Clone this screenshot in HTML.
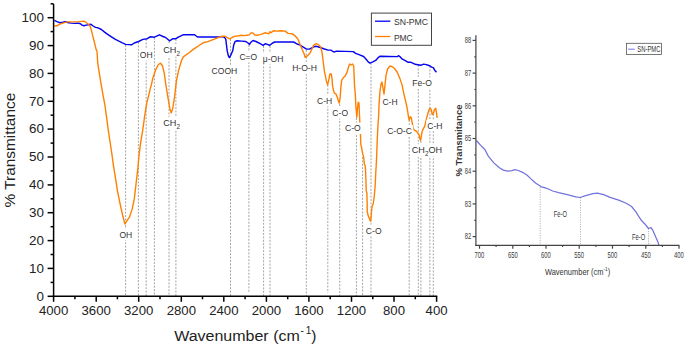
<!DOCTYPE html>
<html><head><meta charset="utf-8"><style>
html,body{margin:0;padding:0;background:#fff;}
svg{display:block;}
text{font-family:"Liberation Sans",sans-serif;}
.d{stroke:#939393;stroke-width:0.85;stroke-dasharray:2 1.4;}
.d2{stroke:#999;stroke-width:0.7;stroke-dasharray:1.2 1.2;}
.l{font-size:9.1px;fill:#333;}
.t{font-size:13.2px;fill:#222;}
.ty{font-size:13.4px;fill:#222;}
.ti{font-size:15.5px;fill:#222;}
.lg{font-size:9px;fill:#333;}
.it{font-size:8.8px;fill:#3a3a3a;}
.it2{font-size:8.6px;fill:#333;}
.iti{font-size:8.8px;font-weight:bold;fill:#333;}
.ix{font-size:9.6px;fill:#333;}
</style></head><body>
<svg width="685" height="349" viewBox="0 0 685 349">
<line x1="125.6" y1="45" x2="125.6" y2="296" class="d"/>
<line x1="138.4" y1="42" x2="138.4" y2="296" class="d"/>
<line x1="146.2" y1="39" x2="146.2" y2="296" class="d"/>
<line x1="154.4" y1="37.5" x2="154.4" y2="296" class="d"/>
<line x1="169.0" y1="41" x2="169.0" y2="296" class="d"/>
<line x1="175.9" y1="39" x2="175.9" y2="296" class="d"/>
<line x1="230.5" y1="39" x2="230.5" y2="296" class="d"/>
<line x1="248.9" y1="45" x2="248.9" y2="293" class="d"/>
<line x1="263.6" y1="46" x2="263.6" y2="296" class="d"/>
<line x1="270.0" y1="46" x2="270.0" y2="296" class="d"/>
<line x1="306.3" y1="50" x2="306.3" y2="296" class="d"/>
<line x1="327.8" y1="85" x2="327.8" y2="293" class="d"/>
<line x1="339.7" y1="104" x2="339.7" y2="296" class="d"/>
<line x1="356.4" y1="118" x2="356.4" y2="296" class="d"/>
<line x1="362.6" y1="157" x2="362.6" y2="296" class="d"/>
<line x1="371.0" y1="63" x2="371.0" y2="296" class="d"/>
<line x1="409.2" y1="120" x2="409.2" y2="296" class="d"/>
<line x1="418.3" y1="65" x2="418.3" y2="296" class="d"/>
<line x1="420.9" y1="141" x2="420.9" y2="296" class="d"/>
<line x1="429.9" y1="66" x2="429.9" y2="296" class="d"/>
<line x1="433.3" y1="114" x2="433.3" y2="296" class="d"/>
<polyline points="54.4,20.4 57.0,21.6 59.9,22.7 62.8,22.3 65.2,21.6 67.5,22.5 71.0,23.1 74.5,23.4 78.0,23.1 80.4,23.7 82.1,25.1 83.9,25.8 86.2,25.1 88.5,24.8 90.9,24.3 93.2,26.0 95.5,27.4 97.9,27.8 101.4,29.5 104.9,32.4 108.4,34.8 111.9,37.1 115.4,39.4 118.9,41.2 122.4,42.9 125.7,44.4 131.5,44.8 134.3,43.0 138.6,41.5 142.9,39.4 147.2,38.7 150.1,36.8 154.4,37.2 159.4,34.8 163.0,36.5 165.9,37.7 169.5,40.8 173.0,38.7 175.9,38.7 178.8,36.8 183.1,34.8 194.6,34.7 197.5,37.0 218.1,37.0 221.6,36.6 224.6,37.4 225.8,39.4 226.5,45.1 227.2,50.8 228.4,55.9 229.4,57.6 230.8,55.1 232.7,50.8 233.7,45.1 235.1,41.5 237.3,40.8 241.6,41.1 245.9,41.5 248.0,43.0 249.5,44.4 250.9,42.2 253.0,40.5 255.9,41.5 260.2,43.7 263.1,45.4 265.2,43.7 267.4,44.4 269.5,45.4 271.7,43.7 274.6,42.0 293.6,42.0 296.5,43.7 300.1,45.1 303.7,47.3 306.5,49.1 309.4,49.1 312.3,47.7 315.1,46.3 318.0,46.8 320.9,47.7 323.7,48.7 328.0,50.1 330.9,50.1 333.8,52.0 336.6,51.1 353.3,51.6 355.6,53.3 359.0,54.7 363.6,56.5 365.9,59.0 368.2,61.9 369.9,63.1 372.8,61.9 375.7,60.4 378.5,57.3 380.2,56.2 397.3,56.6 398.7,55.7 400.7,57.4 402.4,59.2 405.3,60.6 408.2,62.3 411.0,62.3 413.9,63.7 415.5,64.2 417.9,64.7 420.7,65.3 423.0,64.3 425.3,64.4 428.2,65.3 429.9,65.9 431.6,67.1 433.3,67.6 434.7,70.2 436.5,72.2" fill="none" stroke="#0606ee" stroke-width="1.45" stroke-linejoin="round"/>
<polyline points="54.4,26.0 57.0,25.8 59.3,24.3 62.8,23.1 67.5,21.9 73.4,21.9 79.2,21.6 83.9,21.1 86.2,22.5 88.5,24.3 90.3,26.6 91.5,30.7 92.6,35.4 93.8,40.0 95.0,44.7 96.1,49.4 97.0,51.3 97.7,62.7 100.2,78.8 102.8,93.8 104.9,105.2 106.5,116.7 108.3,130.4 110.2,143.0 111.8,153.4 113.4,165.3 115.5,178.2 117.5,191.1 120.1,203.9 122.7,215.5 124.5,222.5 125.0,224.0 127.0,220.7 129.6,216.8 132.2,209.1 134.3,198.8 136.1,183.3 137.9,167.9 138.9,157.0 140.4,144.2 142.7,130.4 144.6,116.7 146.8,102.9 149.1,93.8 150.2,88.9 151.4,84.6 152.7,78.6 155.8,69.6 158.4,64.5 160.5,63.2 162.5,65.8 164.3,73.5 166.1,86.4 168.2,99.2 170.0,109.5 171.3,112.9 172.8,108.2 174.6,96.7 176.4,81.2 178.5,70.9 181.5,60.5 183.2,57.1 186.0,54.8 189.5,52.5 192.9,49.6 196.3,47.3 199.8,45.0 203.2,42.8 207.8,41.6 212.4,39.9 217.0,38.2 220.4,36.6 222.5,36.2 225.1,36.3 227.3,37.6 229.7,38.8 232.0,37.5 234.3,36.4 239.0,35.8 241.5,35.3 243.7,35.6 247.2,35.2 249.5,34.6 251.3,32.6 253.0,33.1 254.8,35.0 257.1,35.2 260.0,34.6 262.4,33.8 264.7,32.8 267.0,33.1 268.8,33.8 270.0,31.7 271.1,32.8 272.3,31.7 274.0,30.7 276.4,31.1 281.1,30.7 285.1,31.1 288.1,33.4 292.2,33.8 295.1,35.8 298.0,39.3 299.7,43.4 302.1,49.2 304.2,54.0 305.1,57.3 307.3,55.9 310.1,53.0 312.0,48.7 313.7,45.1 316.3,43.7 318.7,44.8 320.9,47.3 322.0,52.3 323.0,60.0 324.4,71.1 325.6,77.1 326.4,81.1 327.6,84.7 328.8,80.1 329.6,75.1 330.4,73.7 331.3,74.1 332.1,79.1 332.5,85.1 333.3,90.1 334.5,93.2 336.1,94.2 337.3,97.2 338.5,101.2 339.3,103.2 340.1,98.2 340.9,87.1 341.7,80.1 343.1,78.1 345.1,76.1 347.1,72.1 348.5,67.0 349.7,64.0 351.3,65.0 352.5,64.0 353.7,66.0 354.1,75.1 354.5,85.1 355.4,95.2 355.8,105.2 356.8,117.2 357.4,109.2 358.2,102.2 359.0,103.2 359.4,113.2 359.8,121.3 360.5,135.1 360.8,144.4 361.5,147.2 362.2,151.5 362.9,154.4 363.6,157.0 364.3,163.6 365.3,166.5 365.8,176.5 366.2,190.8 366.9,193.0 367.2,205.0 367.2,211.5 368.2,215.8 369.4,218.6 370.4,221.2 371.1,218.6 371.5,211.5 372.2,206.0 373.2,204.0 374.2,197.0 375.1,186.5 375.8,172.2 376.5,160.0 376.9,150.0 377.3,138.7 378.0,124.3 378.7,115.0 379.0,105.1 380.0,91.1 381.0,84.1 382.0,82.1 383.0,88.1 384.0,94.1 385.0,85.1 386.0,75.1 387.6,69.0 390.0,66.0 392.0,66.6 394.1,68.0 397.1,72.0 400.1,79.1 402.1,85.1 403.7,93.1 405.1,99.1 406.5,105.0 407.7,111.3 408.6,117.6 409.2,120.0 410.2,116.8 411.3,117.6 412.1,122.3 413.3,128.6 414.4,130.2 416.0,131.0 417.6,132.6 419.2,135.0 419.9,138.9 420.7,140.5 421.5,135.0 422.3,131.0 423.4,128.6 424.7,126.3 426.2,120.0 427.8,113.7 429.1,109.7 430.2,108.2 431.3,109.7 432.2,114.5 433.3,113.7 434.4,109.7 435.7,108.2 436.5,112.9 437.1,118.0" fill="none" stroke="#ff8000" stroke-width="1.4" stroke-linejoin="round"/>
<rect x="118.5" y="228.8" width="14.7" height="11.5" fill="#fff"/>
<text x="125.8" y="237.6" text-anchor="middle" class="l" textLength="12.8" lengthAdjust="spacingAndGlyphs">OH</text>
<rect x="138.9" y="49.2" width="14.7" height="11.5" fill="#fff"/>
<text x="146.2" y="58.0" text-anchor="middle" class="l" textLength="12.8" lengthAdjust="spacingAndGlyphs">OH</text>
<rect x="210.2" y="65.5" width="28.3" height="11.5" fill="#fff"/>
<text x="224.4" y="74.3" text-anchor="middle" class="l" textLength="25.7" lengthAdjust="spacingAndGlyphs">COOH</text>
<rect x="238.3" y="51.0" width="20.0" height="11.5" fill="#fff"/>
<text x="248.3" y="59.8" text-anchor="middle" class="l" textLength="17.8" lengthAdjust="spacingAndGlyphs">C=O</text>
<rect x="261.6" y="52.9" width="22.9" height="11.5" fill="#fff"/>
<text x="273.1" y="61.7" text-anchor="middle" class="l" textLength="20.6" lengthAdjust="spacingAndGlyphs">μ-OH</text>
<rect x="290.9" y="62.2" width="27.3" height="11.5" fill="#fff"/>
<text x="304.5" y="71.0" text-anchor="middle" class="l" textLength="24.7" lengthAdjust="spacingAndGlyphs">H-O-H</text>
<rect x="316.1" y="94.9" width="17.2" height="11.5" fill="#fff"/>
<text x="324.7" y="103.7" text-anchor="middle" class="l" textLength="15.2" lengthAdjust="spacingAndGlyphs">C-H</text>
<rect x="331.4" y="107.0" width="17.7" height="11.5" fill="#fff"/>
<text x="340.2" y="115.8" text-anchor="middle" class="l" textLength="15.7" lengthAdjust="spacingAndGlyphs">C-O</text>
<rect x="344.1" y="122.5" width="17.7" height="11.5" fill="#fff"/>
<text x="352.9" y="131.3" text-anchor="middle" class="l" textLength="15.7" lengthAdjust="spacingAndGlyphs">C-O</text>
<rect x="364.9" y="224.7" width="17.7" height="11.5" fill="#fff"/>
<text x="373.7" y="233.5" text-anchor="middle" class="l" textLength="15.7" lengthAdjust="spacingAndGlyphs">C-O</text>
<rect x="381.4" y="96.3" width="17.2" height="11.5" fill="#fff"/>
<text x="390.0" y="105.1" text-anchor="middle" class="l" textLength="15.2" lengthAdjust="spacingAndGlyphs">C-H</text>
<rect x="411.2" y="77.3" width="21.7" height="11.5" fill="#fff"/>
<text x="422.1" y="86.1" text-anchor="middle" class="l" textLength="19.5" lengthAdjust="spacingAndGlyphs">Fe-O</text>
<rect x="385.9" y="125.2" width="27.3" height="11.5" fill="#fff"/>
<text x="399.5" y="134.0" text-anchor="middle" class="l" textLength="24.7" lengthAdjust="spacingAndGlyphs">C-O-C</text>
<rect x="426.3" y="119.7" width="17.2" height="11.5" fill="#fff"/>
<text x="434.9" y="128.5" text-anchor="middle" class="l" textLength="15.2" lengthAdjust="spacingAndGlyphs">C-H</text>
<rect x="162.8" y="44.2" width="17.7" height="12.5" fill="#fff"/>
<text x="163.3" y="53.3" class="l">CH<tspan dy="2.5" font-size="6.4">2</tspan><tspan dy="-2.5"></tspan></text>
<rect x="162.8" y="117.1" width="17.7" height="12.5" fill="#fff"/>
<text x="163.3" y="126.2" class="l">CH<tspan dy="2.5" font-size="6.4">2</tspan><tspan dy="-2.5"></tspan></text>
<rect x="411.3" y="144.1" width="31.3" height="12.5" fill="#fff"/>
<text x="411.8" y="153.2" class="l">CH<tspan dy="2.5" font-size="6.4">2</tspan><tspan dy="-2.5">OH</tspan></text>
<g stroke="#000" stroke-width="1.5" fill="none">
<line x1="53.6" y1="3.9" x2="53.6" y2="297"/>
<line x1="52.9" y1="296.3" x2="437.3" y2="296.3"/>
<line x1="47.6" y1="296.3" x2="53.6" y2="296.3"/>
<line x1="50.6" y1="282.4" x2="53.6" y2="282.4"/>
<line x1="47.6" y1="268.4" x2="53.6" y2="268.4"/>
<line x1="50.6" y1="254.5" x2="53.6" y2="254.5"/>
<line x1="47.6" y1="240.6" x2="53.6" y2="240.6"/>
<line x1="50.6" y1="226.7" x2="53.6" y2="226.7"/>
<line x1="47.6" y1="212.7" x2="53.6" y2="212.7"/>
<line x1="50.6" y1="198.8" x2="53.6" y2="198.8"/>
<line x1="47.6" y1="184.9" x2="53.6" y2="184.9"/>
<line x1="50.6" y1="170.9" x2="53.6" y2="170.9"/>
<line x1="47.6" y1="157.0" x2="53.6" y2="157.0"/>
<line x1="50.6" y1="143.1" x2="53.6" y2="143.1"/>
<line x1="47.6" y1="129.1" x2="53.6" y2="129.1"/>
<line x1="50.6" y1="115.2" x2="53.6" y2="115.2"/>
<line x1="47.6" y1="101.3" x2="53.6" y2="101.3"/>
<line x1="50.6" y1="87.4" x2="53.6" y2="87.4"/>
<line x1="47.6" y1="73.4" x2="53.6" y2="73.4"/>
<line x1="50.6" y1="59.5" x2="53.6" y2="59.5"/>
<line x1="47.6" y1="45.6" x2="53.6" y2="45.6"/>
<line x1="50.6" y1="31.6" x2="53.6" y2="31.6"/>
<line x1="47.6" y1="17.7" x2="53.6" y2="17.7"/>
<line x1="50.6" y1="3.8" x2="53.6" y2="3.8"/>
<line x1="53.6" y1="296.3" x2="53.6" y2="301.8"/>
<line x1="74.9" y1="296.3" x2="74.9" y2="299.3"/>
<line x1="96.2" y1="296.3" x2="96.2" y2="301.8"/>
<line x1="117.4" y1="296.3" x2="117.4" y2="299.3"/>
<line x1="138.7" y1="296.3" x2="138.7" y2="301.8"/>
<line x1="160.0" y1="296.3" x2="160.0" y2="299.3"/>
<line x1="181.3" y1="296.3" x2="181.3" y2="301.8"/>
<line x1="202.5" y1="296.3" x2="202.5" y2="299.3"/>
<line x1="223.8" y1="296.3" x2="223.8" y2="301.8"/>
<line x1="245.1" y1="296.3" x2="245.1" y2="299.3"/>
<line x1="266.4" y1="296.3" x2="266.4" y2="301.8"/>
<line x1="287.7" y1="296.3" x2="287.7" y2="299.3"/>
<line x1="308.9" y1="296.3" x2="308.9" y2="301.8"/>
<line x1="330.2" y1="296.3" x2="330.2" y2="299.3"/>
<line x1="351.5" y1="296.3" x2="351.5" y2="301.8"/>
<line x1="372.8" y1="296.3" x2="372.8" y2="299.3"/>
<line x1="394.0" y1="296.3" x2="394.0" y2="301.8"/>
<line x1="415.3" y1="296.3" x2="415.3" y2="299.3"/>
<line x1="436.6" y1="296.3" x2="436.6" y2="301.8"/>
</g>
<text x="43.9" y="300.6" text-anchor="end" class="ty">0</text>
<text x="43.9" y="272.7" text-anchor="end" class="ty">10</text>
<text x="43.9" y="244.9" text-anchor="end" class="ty">20</text>
<text x="43.9" y="217.0" text-anchor="end" class="ty">30</text>
<text x="43.9" y="189.2" text-anchor="end" class="ty">40</text>
<text x="43.9" y="161.3" text-anchor="end" class="ty">50</text>
<text x="43.9" y="133.4" text-anchor="end" class="ty">60</text>
<text x="43.9" y="105.6" text-anchor="end" class="ty">70</text>
<text x="43.9" y="77.7" text-anchor="end" class="ty">80</text>
<text x="43.9" y="49.9" text-anchor="end" class="ty">90</text>
<text x="43.9" y="22.0" text-anchor="end" class="ty">100</text>
<text x="53.6" y="315.0" text-anchor="middle" class="t">4000</text>
<text x="96.2" y="315.0" text-anchor="middle" class="t">3600</text>
<text x="138.7" y="315.0" text-anchor="middle" class="t">3200</text>
<text x="181.3" y="315.0" text-anchor="middle" class="t">2800</text>
<text x="223.8" y="315.0" text-anchor="middle" class="t">2400</text>
<text x="266.4" y="315.0" text-anchor="middle" class="t">2000</text>
<text x="308.9" y="315.0" text-anchor="middle" class="t">1600</text>
<text x="351.5" y="315.0" text-anchor="middle" class="t">1200</text>
<text x="394.0" y="315.0" text-anchor="middle" class="t">800</text>
<text x="436.6" y="315.0" text-anchor="middle" class="t">400</text>
<text transform="translate(15.1,150.1) rotate(-90)" text-anchor="middle" class="ti" style="font-size:15.4px">% Transmittance</text>
<text x="174.2" y="340.6" class="ti" textLength="125.6" lengthAdjust="spacingAndGlyphs">Wavenumber (cm</text>
<text x="300.4" y="334.4" class="ti" style="font-size:10px">-</text>
<text x="305.8" y="334.4" class="ti" style="font-size:10px">1</text>
<text x="311.3" y="340.6" class="ti">)</text>
<rect x="371.4" y="13.1" width="60.1" height="32.2" fill="#fff" stroke="#444" stroke-width="1"/>
<line x1="375" y1="21.2" x2="390.3" y2="21.2" stroke="#0000ff" stroke-width="1.3"/>
<line x1="375" y1="36.5" x2="390.3" y2="36.5" stroke="#ff8000" stroke-width="1.3"/>
<text x="393.9" y="25.4" class="lg" textLength="34.2" lengthAdjust="spacingAndGlyphs">SN-PMC</text>
<text x="393.9" y="40.8" class="lg" textLength="18.8" lengthAdjust="spacingAndGlyphs">PMC</text>
<line x1="540.2" y1="187" x2="540.2" y2="245" class="d2"/>
<line x1="580.5" y1="197.5" x2="580.5" y2="245" class="d2"/>
<line x1="648.5" y1="228.5" x2="648.5" y2="245" class="d2"/>
<polyline points="476.4,140.5 480.7,145.4 485.0,149.7 488.3,156.1 493.6,162.6 499.0,167.5 503.3,170.1 507.6,171.2 511.9,170.7 515.1,169.7 518.3,170.5 522.6,172.3 526.9,175.0 531.2,179.1 535.5,183.0 540.9,186.6 545.2,187.9 548.4,189.0 552.7,191.0 558.6,192.6 567.2,194.7 575.8,196.8 580.1,197.5 586.5,195.3 593.0,193.6 597.3,193.2 603.7,194.7 610.1,197.3 618.7,200.1 626.2,203.3 631.6,206.5 635.9,211.9 638.2,215.6 641.7,220.8 645.1,224.2 648.5,228.5 651.1,227.7 652.8,230.3 655.4,236.3 658.0,242.3 658.9,245.0" fill="none" stroke="#7272dd" stroke-width="1.25" stroke-linejoin="round"/>
<g stroke="#444" stroke-width="1.2" fill="none">
<line x1="475.9" y1="35.3" x2="475.9" y2="245.9"/>
<line x1="475.3" y1="245.3" x2="679.3" y2="245.3"/>
<line x1="472.59999999999997" y1="236.6" x2="475.9" y2="236.6"/>
<line x1="474.29999999999995" y1="220.3" x2="475.9" y2="220.3"/>
<line x1="472.59999999999997" y1="203.9" x2="475.9" y2="203.9"/>
<line x1="474.29999999999995" y1="187.6" x2="475.9" y2="187.6"/>
<line x1="472.59999999999997" y1="171.2" x2="475.9" y2="171.2"/>
<line x1="474.29999999999995" y1="154.9" x2="475.9" y2="154.9"/>
<line x1="472.59999999999997" y1="138.5" x2="475.9" y2="138.5"/>
<line x1="474.29999999999995" y1="122.2" x2="475.9" y2="122.2"/>
<line x1="472.59999999999997" y1="105.8" x2="475.9" y2="105.8"/>
<line x1="474.29999999999995" y1="89.5" x2="475.9" y2="89.5"/>
<line x1="472.59999999999997" y1="73.1" x2="475.9" y2="73.1"/>
<line x1="474.29999999999995" y1="56.8" x2="475.9" y2="56.8"/>
<line x1="472.59999999999997" y1="40.4" x2="475.9" y2="40.4"/>
<line x1="479.5" y1="245.2" x2="479.5" y2="248.7"/>
<line x1="496.1" y1="245.2" x2="496.1" y2="247.0"/>
<line x1="512.8" y1="245.2" x2="512.8" y2="248.7"/>
<line x1="529.4" y1="245.2" x2="529.4" y2="247.0"/>
<line x1="546.0" y1="245.2" x2="546.0" y2="248.7"/>
<line x1="562.6" y1="245.2" x2="562.6" y2="247.0"/>
<line x1="579.2" y1="245.2" x2="579.2" y2="248.7"/>
<line x1="595.9" y1="245.2" x2="595.9" y2="247.0"/>
<line x1="612.5" y1="245.2" x2="612.5" y2="248.7"/>
<line x1="629.1" y1="245.2" x2="629.1" y2="247.0"/>
<line x1="645.8" y1="245.2" x2="645.8" y2="248.7"/>
<line x1="662.4" y1="245.2" x2="662.4" y2="247.0"/>
<line x1="679.0" y1="245.2" x2="679.0" y2="248.7"/>
</g>
<text x="471.2" y="239.4" text-anchor="end" class="it" textLength="6.4" lengthAdjust="spacingAndGlyphs">82</text>
<text x="471.2" y="206.7" text-anchor="end" class="it" textLength="6.4" lengthAdjust="spacingAndGlyphs">83</text>
<text x="471.2" y="174.0" text-anchor="end" class="it" textLength="6.4" lengthAdjust="spacingAndGlyphs">84</text>
<text x="471.2" y="141.3" text-anchor="end" class="it" textLength="6.4" lengthAdjust="spacingAndGlyphs">85</text>
<text x="471.2" y="108.6" text-anchor="end" class="it" textLength="6.4" lengthAdjust="spacingAndGlyphs">86</text>
<text x="471.2" y="75.9" text-anchor="end" class="it" textLength="6.4" lengthAdjust="spacingAndGlyphs">87</text>
<text x="471.2" y="43.2" text-anchor="end" class="it" textLength="6.4" lengthAdjust="spacingAndGlyphs">88</text>
<text x="479.5" y="258" text-anchor="middle" class="it" textLength="9.8" lengthAdjust="spacingAndGlyphs">700</text>
<text x="512.8" y="258" text-anchor="middle" class="it" textLength="9.8" lengthAdjust="spacingAndGlyphs">650</text>
<text x="546.0" y="258" text-anchor="middle" class="it" textLength="9.8" lengthAdjust="spacingAndGlyphs">600</text>
<text x="579.2" y="258" text-anchor="middle" class="it" textLength="9.8" lengthAdjust="spacingAndGlyphs">550</text>
<text x="612.5" y="258" text-anchor="middle" class="it" textLength="9.8" lengthAdjust="spacingAndGlyphs">500</text>
<text x="645.8" y="258" text-anchor="middle" class="it" textLength="9.8" lengthAdjust="spacingAndGlyphs">450</text>
<text x="679.0" y="258" text-anchor="middle" class="it" textLength="9.8" lengthAdjust="spacingAndGlyphs">400</text>
<text transform="translate(462.4,140.6) rotate(-90)" text-anchor="middle" class="iti" textLength="72" lengthAdjust="spacingAndGlyphs">% Transmitance</text>
<text x="544.9" y="275" class="ix" textLength="65.3" lengthAdjust="spacingAndGlyphs">Wavenumber (cm<tspan dy="-4" font-size="6">-1</tspan><tspan dy="4">)</tspan></text>
<text x="560.4" y="217.1" text-anchor="middle" class="it2" textLength="13.1" lengthAdjust="spacingAndGlyphs">Fe-O</text>
<text x="638.6" y="240.1" text-anchor="middle" class="it2" textLength="13.2" lengthAdjust="spacingAndGlyphs">Fe-O</text>
<rect x="626.4" y="43.3" width="35" height="11.1" fill="#fff" stroke="#555" stroke-width="0.8"/>
<line x1="628.1" y1="49.2" x2="634.7" y2="49.2" stroke="#7070f0" stroke-width="1"/>
<text x="637.3" y="51.8" class="it2" textLength="23.2" lengthAdjust="spacingAndGlyphs">SN-PMC</text>
</svg>
</body></html>
